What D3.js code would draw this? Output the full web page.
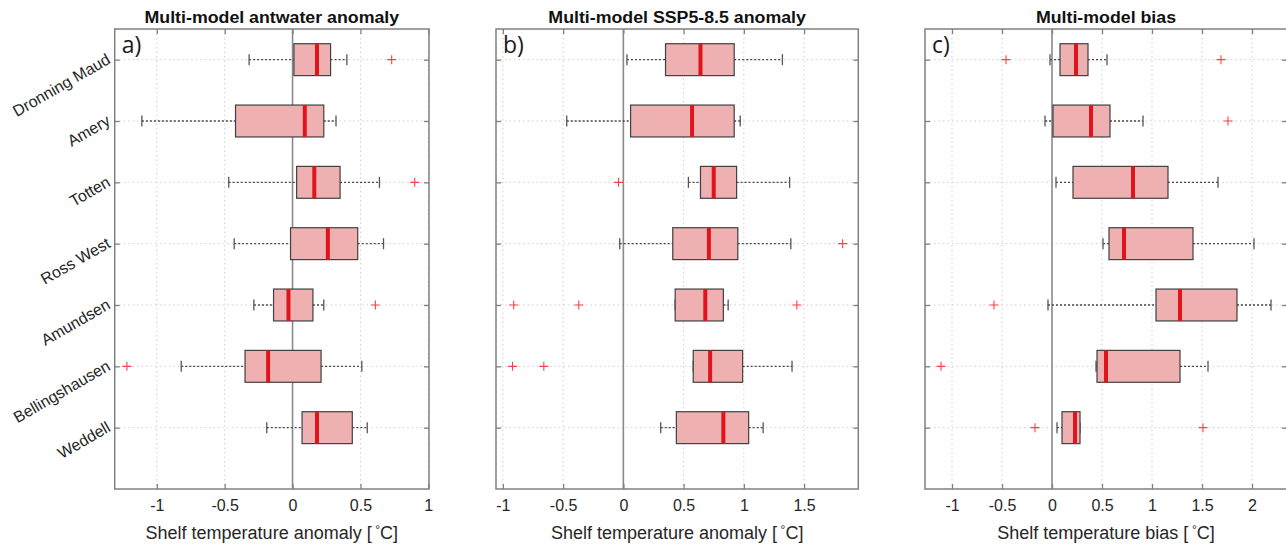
<!DOCTYPE html>
<html>
<head>
<meta charset="utf-8">
<script src="https://cdn.jsdelivr.net/npm/d3@7"></script>
<style>
  body { margin: 0; background: #fff; }
  svg { display: block; overflow: hidden; }
</style>
</head>
<body>
<div class="chart"></div>
<script>
// regions, top to bottom
const regions = ["Dronning Maud", "Amery", "Totten", "Ross West", "Amundsen", "Bellingshausen", "Weddell"];

// each row: [lower whisker, q1, median, q3, upper whisker]
const antwaterStats = [
  [-0.32, 0.01, 0.18, 0.28, 0.40],
  [-1.11, -0.42, 0.09, 0.23, 0.32],
  [-0.47, 0.03, 0.16, 0.35, 0.64],
  [-0.43, -0.015, 0.26, 0.48, 0.67],
  [-0.285, -0.14, -0.03, 0.15, 0.23],
  [-0.82, -0.35, -0.18, 0.21, 0.51],
  [-0.19, 0.07, 0.18, 0.44, 0.55]
];
const antwaterOutliers = [[0.73], [], [0.90], [], [0.61], [-1.22], []];

const sspStats = [
  [0.03, 0.35, 0.64, 0.92, 1.32],
  [-0.47, 0.06, 0.57, 0.92, 0.97],
  [0.54, 0.64, 0.75, 0.94, 1.38],
  [-0.03, 0.41, 0.71, 0.95, 1.39],
  [0.43, 0.43, 0.68, 0.83, 0.87],
  [0.58, 0.58, 0.72, 0.99, 1.40],
  [0.31, 0.44, 0.83, 1.04, 1.16]
];
const sspOutliers = [[], [], [-0.04], [1.82], [-0.91, -0.37, 1.44], [-0.92, -0.66], []];

const biasStats = [
  [-0.02, 0.08, 0.24, 0.36, 0.55],
  [-0.07, 0.01, 0.39, 0.58, 0.91],
  [0.04, 0.21, 0.81, 1.16, 1.66],
  [0.51, 0.57, 0.72, 1.41, 2.02],
  [-0.04, 1.04, 1.28, 1.85, 2.19],
  [0.44, 0.45, 0.54, 1.28, 1.56],
  [0.05, 0.10, 0.23, 0.28, 0.28]
];
const biasOutliers = [[-0.46, 1.69], [1.76], [], [], [-0.58], [-1.11], [-0.17, 1.51]];

const antwaterTicks = [-1, -0.5, 0, 0.5, 1];
const sspTicks = [-1, -0.5, 0, 0.5, 1, 1.5];
const biasTicks = [-1, -0.5, 0, 0.5, 1, 1.5, 2];

const titles = ["Multi-model antwater anomaly", "Multi-model SSP5-8.5 anomaly", "Multi-model bias"];
const xLabels = ["Shelf temperature anomaly [", "Shelf temperature anomaly [", "Shelf temperature bias ["];
const panelTags = ["a)", "b)", "c)"];

const width = 1286;
const height = 547;
const plotTop = 29, plotBottom = 489;
const font = "'Liberation Sans', Arial, sans-serif";
const textColor = "#262626";
const axisColor = "#808080";

const panels = [
  { left: 114.7, right: 429, domain: [-1.31, 1.005], stats: antwaterStats, outliers: antwaterOutliers, ticks: antwaterTicks },
  { left: 496, right: 858.3, domain: [-1.057, 1.95], stats: sspStats, outliers: sspOutliers, ticks: sspTicks },
  { left: 925, right: 1287, domain: [-1.27, 2.35], stats: biasStats, outliers: biasOutliers, ticks: biasTicks }
];

const svg = d3.select(".chart").append("svg")
  .attr("width", width)
  .attr("height", height);

const y = d3.scaleLinear().domain([0.5, 8]).range([plotTop, plotBottom]);

panels.forEach(function(p, pi) {
  const x = d3.scaleLinear().domain(p.domain).range([p.left, p.right]);
  const g = svg.append("g");

  // grid
  g.selectAll(".vgrid")
    .data(p.ticks.filter(function(t) { return t !== 0; }))
    .enter().append("line")
    .attr("x1", function(d) { return x(d); })
    .attr("x2", function(d) { return x(d); })
    .attr("y1", plotTop).attr("y2", plotBottom)
    .attr("stroke", "#cfcfcf")
    .attr("stroke-dasharray", "1.5,3");

  g.selectAll(".hgrid")
    .data(regions)
    .enter().append("line")
    .attr("x1", p.left).attr("x2", p.right)
    .attr("y1", function(d, i) { return y(i + 1); })
    .attr("y2", function(d, i) { return y(i + 1); })
    .attr("stroke", "#cfcfcf")
    .attr("stroke-dasharray", "1.5,3");

  // zero line
  g.append("line")
    .attr("x1", x(0)).attr("x2", x(0))
    .attr("y1", plotTop).attr("y2", plotBottom)
    .attr("stroke", "#8a8a8a")
    .attr("stroke-width", 1.6);

  // whiskers
  const rows = g.selectAll(".box")
    .data(p.stats)
    .enter().append("g")
    .attr("class", "box");

  rows.append("line")
    .attr("x1", function(d) { return x(d[0]); })
    .attr("x2", function(d) { return x(d[1]); })
    .attr("y1", function(d, i) { return y(i + 1); })
    .attr("y2", function(d, i) { return y(i + 1); })
    .attr("stroke", "#4a4a4a")
    .attr("stroke-width", 1.4)
    .attr("stroke-dasharray", "2,2");

  rows.append("line")
    .attr("x1", function(d) { return x(d[3]); })
    .attr("x2", function(d) { return x(d[4]); })
    .attr("y1", function(d, i) { return y(i + 1); })
    .attr("y2", function(d, i) { return y(i + 1); })
    .attr("stroke", "#4a4a4a")
    .attr("stroke-width", 1.4)
    .attr("stroke-dasharray", "2,2");

  [0, 4].forEach(function(k) {
    rows.append("line")
      .attr("x1", function(d) { return x(d[k]); })
      .attr("x2", function(d) { return x(d[k]); })
      .attr("y1", function(d, i) { return y(i + 1 - 0.09); })
      .attr("y2", function(d, i) { return y(i + 1 + 0.09); })
      .attr("stroke", "#555")
      .attr("stroke-width", 1.3);
  });

  // boxes
  rows.append("rect")
    .attr("x", function(d) { return x(d[1]); })
    .attr("width", function(d) { return x(d[3]) - x(d[1]); })
    .attr("y", function(d, i) { return y(i + 1 - 0.26); })
    .attr("height", function(d, i) { return y(i + 1 + 0.26) - y(i + 1 - 0.26); })
    .attr("fill", "#eeb0b0")
    .attr("stroke", "#404040")
    .attr("stroke-width", 1.2);

  rows.append("line")
    .attr("x1", function(d) { return x(d[2]); })
    .attr("x2", function(d) { return x(d[2]); })
    .attr("y1", function(d, i) { return y(i + 1 - 0.26); })
    .attr("y2", function(d, i) { return y(i + 1 + 0.26); })
    .attr("stroke", "#e0141c")
    .attr("stroke-width", 4);

  // outliers
  p.outliers.forEach(function(list, i) {
    list.forEach(function(v) {
      const cx = x(v), cy = y(i + 1);
      g.append("path")
        .attr("d", "M" + (cx - 4.5) + "," + cy + "H" + (cx + 4.5) + "M" + cx + "," + (cy - 4.5) + "V" + (cy + 4.5))
        .attr("stroke", "#ff4040")
        .attr("stroke-width", 1.1)
        .attr("fill", "none");
    });
  });

  // axes
  const xBottom = g.append("g")
    .attr("transform", "translate(0," + plotBottom + ")")
    .call(d3.axisBottom(x).tickValues(p.ticks).tickSizeInner(-5).tickSizeOuter(0).tickPadding(11)
      .tickFormat(function(d) { return String(d); }));
  const xTop = g.append("g")
    .attr("transform", "translate(0," + plotTop + ")")
    .call(d3.axisTop(x).tickValues(p.ticks).tickSizeInner(-5).tickSizeOuter(0).tickFormat(""));
  const yLeft = g.append("g")
    .attr("transform", "translate(" + p.left + ",0)")
    .call(d3.axisLeft(y).tickValues(d3.range(1, 8)).tickSizeInner(-5).tickSizeOuter(0).tickFormat(""));
  const yRight = g.append("g")
    .attr("transform", "translate(" + p.right + ",0)")
    .call(d3.axisRight(y).tickValues(d3.range(1, 8)).tickSizeInner(-5).tickSizeOuter(0).tickFormat(""));

  [xBottom, xTop, yLeft, yRight].forEach(function(a) {
    a.select(".domain").remove();
    a.selectAll("line").attr("stroke", axisColor).attr("stroke-width", 1.3);
  });
  xBottom.selectAll("text")
    .style("font-family", font)
    .style("font-size", "16px")
    .attr("fill", textColor);

  g.append("rect")
    .attr("x", p.left).attr("y", plotTop)
    .attr("width", p.right - p.left).attr("height", plotBottom - plotTop)
    .attr("fill", "none")
    .attr("stroke", axisColor)
    .attr("stroke-width", 1.5);

  // title, a bit stretched like the source figure
  const title = g.append("text")
    .attr("x", (p.left + p.right) / 2)
    .attr("y", 23)
    .style("text-anchor", "middle")
    .style("font-family", font)
    .style("font-size", "16px")
    .style("font-weight", "bold")
    .attr("fill", "#111")
    .text(titles[pi]);
  const tl = title.node().getComputedTextLength();
  title.attr("textLength", tl * 1.11).attr("lengthAdjust", "spacingAndGlyphs");

  // x label
  const xl = g.append("text")
    .attr("x", (p.left + p.right) / 2)
    .attr("y", 539)
    .style("text-anchor", "middle")
    .style("font-family", font)
    .style("font-size", "18px")
    .attr("fill", textColor);
  xl.append("tspan").text(xLabels[pi] + "\u2009");
  xl.append("tspan").attr("dy", -5).style("font-size", "12px").text("\u00B0");
  xl.append("tspan").attr("dy", 5).text("C]");

  // panel tag
  g.append("text")
    .attr("x", p.left + 7)
    .attr("y", 53)
    .style("font-family", "'Open Sans', sans-serif")
    .style("font-size", "23px")
    .attr("fill", "#1a1a1a")
    .text(panelTags[pi]);
});

// region labels, rotated
svg.selectAll(".region")
  .data(regions)
  .enter().append("text")
  .attr("transform", function(d, i) { return "translate(" + (panels[0].left - 6) + "," + (y(i + 1) - 2) + ") rotate(-30)"; })
  .attr("dy", "0.35em")
  .style("text-anchor", "end")
  .style("font-family", font)
  .style("font-size", "16px")
  .attr("fill", textColor)
  .text(function(d) { return d; });
</script>
</body>
</html>
